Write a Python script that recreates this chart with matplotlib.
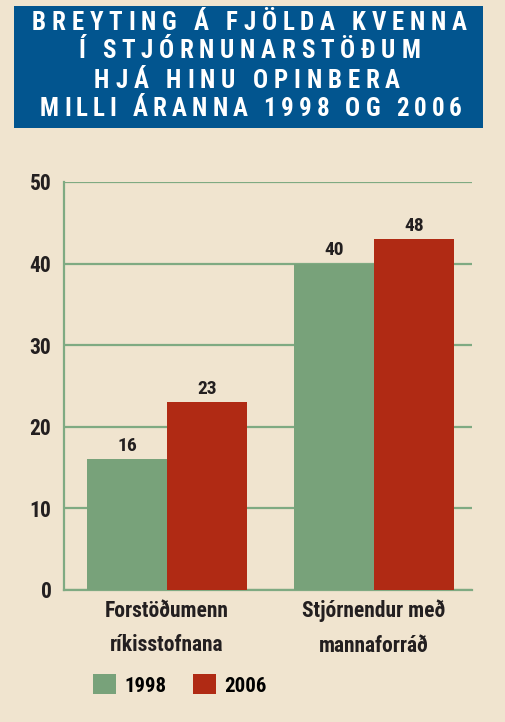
import matplotlib
matplotlib.use('agg')
import matplotlib.pyplot as plt
from matplotlib.patches import Rectangle, Patch
from matplotlib.font_manager import FontProperties, fontManager

# data
categories = ["Forstöðumenn\nríkisstofnana", "Stjórnendur með\nmannaforráð"]
years = ["1998", "2006"]
values_1998 = [16, 40]
values_2006 = [23, 43]          # drawn height of the 2006 bars
labels_1998 = ["16", "40"]
labels_2006 = ["23", "48"]      # printed value labels
title_lines = ["BREYTING Á FJÖLDA KVENNA",
               "Í STJÓRNUNARSTÖÐUM",
               "HJÁ HINU OPINBERA",
               "MILLI ÁRANNA 1998 OG 2006"]

BG = "#F0E4CF"
BLUE = "#02558F"
GREEN = "#78A27A"
GRID = "#7FAA82"
RED = "#B02A14"
INK = "#231F20"

# pick a narrow font if one is around
installed = {f.name for f in fontManager.ttflist}
narrow = None
for name in ["Liberation Sans Narrow", "Roboto Condensed", "DejaVu Sans Condensed",
             "Open Sans Condensed", "Roboto", "Liberation Sans"]:
    if name in installed:
        narrow = name
        break
FONT = [narrow, "DejaVu Sans"] if narrow else ["DejaVu Sans"]
STRETCH = "condensed"


def fp(size):
    return FontProperties(family=FONT, weight="bold", size=size, stretch=STRETCH)


W, H = 506, 722
fig = plt.figure(figsize=(W / 100, H / 100), dpi=100, facecolor=BG)

# title box
fig.patches.append(Rectangle((14 / W, 1 - 128 / H), 469 / W, 122 / H,
                             transform=fig.transFigure, facecolor=BLUE,
                             edgecolor="none", zorder=0))

renderer = fig.canvas.get_renderer()
tfont = fp(18)
centers_y = [23.5, 51.5, 80.5, 109]
spans = [(32, 467), (78, 420), (94, 400), (40, 462)]
for line, cy, (x0, x1) in zip(title_lines, centers_y, spans):
    widths = [renderer.get_text_width_height_descent(c, tfont, ismath=False)[0]
              for c in line]
    tracking = (x1 - x0 - sum(widths)) / (len(line) - 1)
    x = x0
    for c, w in zip(line, widths):
        fig.text(x / W, 1 - cy / H, c, fontproperties=tfont, color="white",
                 ha="left", va="center")
        x += w + tracking

# axes
ax = fig.add_axes([64 / W, 1 - 590 / H, 408 / W, 408 / H])
ax.set_facecolor("none")
x = list(range(len(categories)))
width = 0.387
b1 = ax.bar([i - width / 2 for i in x], values_1998, width, color=GREEN,
            label=years[0], zorder=3)
b2 = ax.bar([i + width / 2 for i in x], values_2006, width, color=RED,
            label=years[1], zorder=3)
for bars, labs in ((b1, labels_1998), (b2, labels_2006)):
    for rect, lab in zip(bars, labs):
        ax.annotate(lab, (rect.get_x() + rect.get_width() / 2, rect.get_height()),
                    xytext=(0, 3), textcoords="offset points", ha="center",
                    va="bottom", color=INK, fontproperties=fp(14))

ax.set_xlim(-0.4976, 1.473)
ax.set_ylim(0, 50)
ax.set_yticks(range(0, 51, 10))
ax.yaxis.grid(True, color=GRID, linewidth=1.6, zorder=1)
ax.set_axisbelow(True)
for s in ("top", "right"):
    ax.spines[s].set_visible(False)
for s in ("left", "bottom"):
    ax.spines[s].set_color(GRID)
    ax.spines[s].set_linewidth(1.6)
ax.tick_params(length=0)
ax.tick_params(axis="y", pad=9)
ax.tick_params(axis="x", pad=7)
ax.set_xticks(x)
ax.set_xticklabels(categories, linespacing=1.75)
for t in ax.get_yticklabels():
    t.set_fontproperties(fp(15.5))
    t.set_color(INK)
for t in ax.get_xticklabels():
    t.set_fontproperties(fp(15.5))
    t.set_color(INK)

handles = [Patch(facecolor=GREEN, label=years[0]),
           Patch(facecolor=RED, label=years[1])]
fig.legend(handles=handles, loc="center left",
           bbox_to_anchor=(93 / W, 1 - 685 / H), ncol=2, frameon=False,
           handlelength=1.1, handleheight=1.1, handletextpad=0.4,
           columnspacing=1.3, borderaxespad=0, borderpad=0,
           prop=fp(15))

fig.savefig("out.png", dpi=100, facecolor=BG)
